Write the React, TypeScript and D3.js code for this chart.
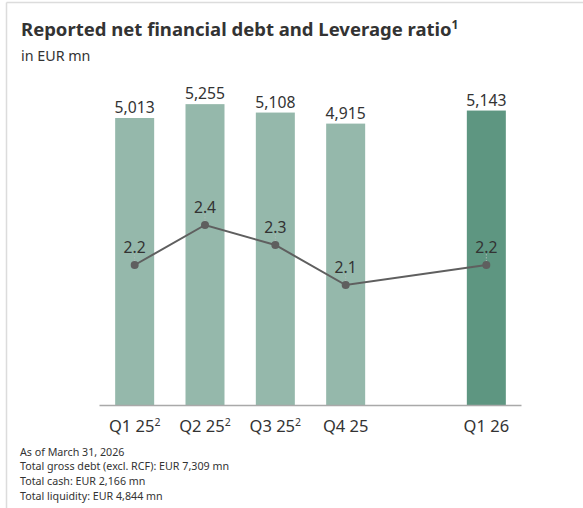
import React from "react";
import * as d3 from "d3";

const categories = ["Q1 25", "Q2 25", "Q3 25", "Q4 25", "", "Q1 26"];
const categorySup = ["2", "2", "2", "", "", ""];
const debtValues: (number | null)[] = [5013, 5255, 5108, 4915, null, 5143];
const debtLabels = ["5,013", "5,255", "5,108", "4,915", "", "5,143"];
const leverageValues: (number | null)[] = [2.2, 2.4, 2.3, 2.1, null, 2.2];
const leverageLabels = ["2.2", "2.4", "2.3", "2.1", "", "2.2"];
const highlight = [false, false, false, false, false, true];
const footnotes = [
  "As of March 31, 2026",
  "Total gross debt (excl. RCF): EUR 7,309 mn",
  "Total cash: EUR 2,166 mn",
  "Total liquidity: EUR 4,844 mn",
];

const W = 583;
const H = 508;
const FONT = "'Noto Sans', 'Open Sans', sans-serif";

export default function App() {
  const x = d3.scaleBand<string>().domain(categories.map((c, i) => i + "")).range([99.5, 521.5]).padding(0);
  const barW = 39;
  const baseY = 405;
  const y = d3.scaleLinear().domain([0, 5013]).range([baseY, 118]);
  const yl = d3.scaleLinear().domain([2.0, 2.4]).range([305, 225]);
  const cx = (i: number) => (x(i + "") as number) + x.bandwidth() / 2;

  const pts = leverageValues
    .map((v, i) => (v == null ? null : ([cx(i), yl(v)] as [number, number])))
    .filter((p): p is [number, number] => p !== null);
  const line = d3.line()(pts) || "";

  return (
    <svg width={W} height={H} style={{ position: "absolute", left: 0, top: 0, background: "#fff" }} fontFamily={FONT}>
      <line x1={6.5} x2={W} y1={2.5} y2={2.5} stroke="#dcdcdc" strokeWidth={1.5} />
      <line x1={6.5} x2={6.5} y1={2.5} y2={H} stroke="#dcdcdc" strokeWidth={1.5} />
      <text x={21} y={36} fontSize={18.5} fontWeight={700} fill="#333">
        Reported net financial debt and Leverage ratio
        <tspan fontSize={12} dy={-7}>1</tspan>
      </text>
      <text x={21} y={61} fontSize={14.3} fill="#333">in EUR mn</text>

      {debtValues.map((v, i) =>
        v == null ? null : (
          <g key={"b" + i}>
            <rect x={cx(i) - barW / 2} y={y(v)} width={barW} height={baseY - y(v)} fill={highlight[i] ? "#5e9681" : "#95b8ab"} />
            <text x={cx(i)} y={y(v) - 5} textAnchor="middle" fontSize={15.7} fill="#333">{debtLabels[i]}</text>
          </g>
        )
      )}
      <line x1={99.5} x2={521.5} y1={baseY + 0.5} y2={baseY + 0.5} stroke="#a9a9a9" strokeWidth={1.5} />

      <path d={line} fill="none" stroke="#5f5f5f" strokeWidth={2} />
      {leverageValues.map((v, i) =>
        v == null ? null : (
          <g key={"p" + i}>
            <line x1={cx(i)} x2={cx(i)} y1={yl(v) - 11} y2={yl(v) - 4} stroke="#bbb" strokeWidth={0.8} strokeDasharray="1.5,1.5" />
            <circle cx={cx(i)} cy={yl(v)} r={4} fill="#5f5f5f" />
            <text x={cx(i)} y={yl(v) - 12} textAnchor="middle" fontSize={15.7} fill="#333">{leverageLabels[i]}</text>
          </g>
        )
      )}

      {categories.map((c, i) =>
        c === "" ? null : (
          <text key={"c" + i} x={cx(i)} y={432} textAnchor="middle" fontSize={16.5} fill="#333">
            {c}
            {categorySup[i] && <tspan fontSize={10.5} dy={-6}>{categorySup[i]}</tspan>}
          </text>
        )
      )}

      {footnotes.map((f, i) => (
        <text key={"f" + i} x={20} y={455.5 + i * 14.8} fontSize={10.7} fill="#333">{f}</text>
      ))}
    </svg>
  );
}
